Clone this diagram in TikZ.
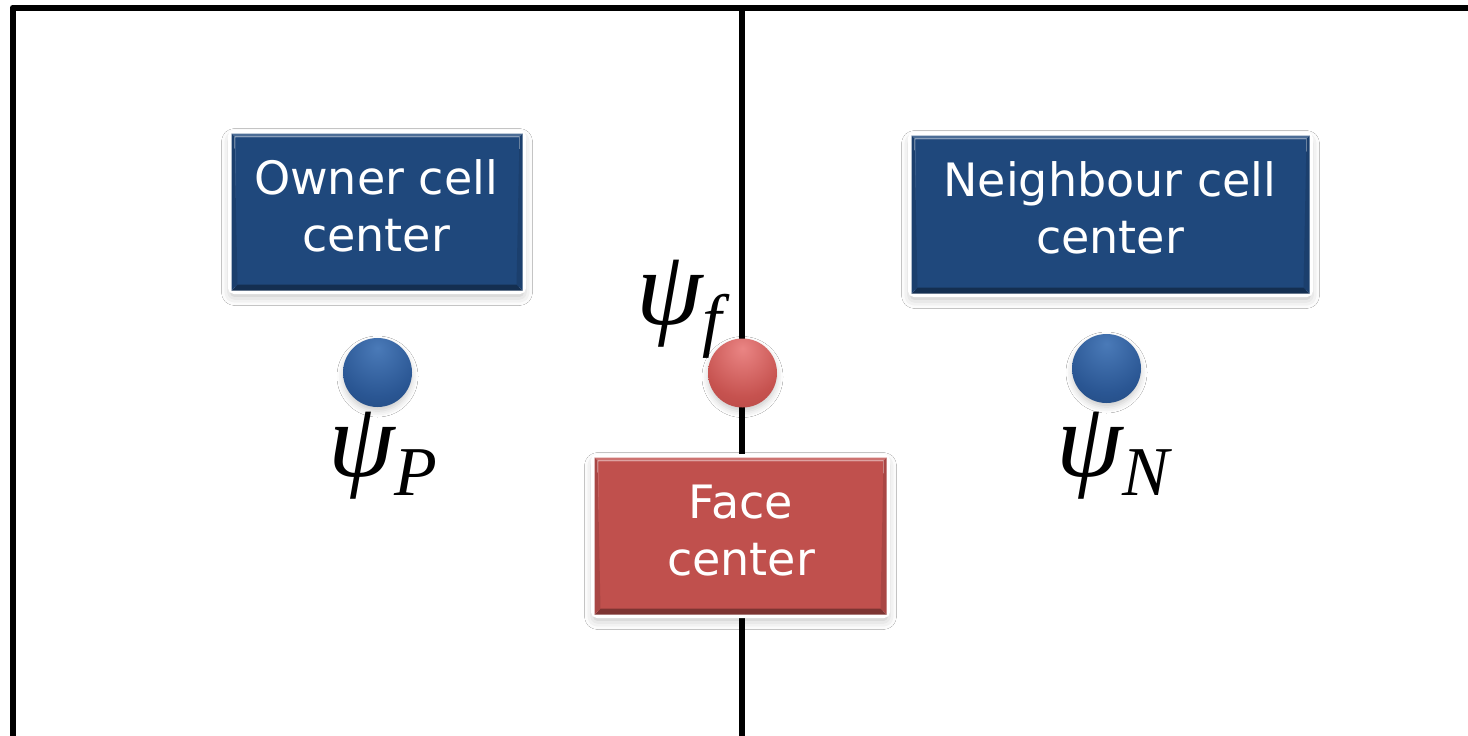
\documentclass[tikz,border=0pt]{standalone}
\usepackage{fontspec}
\newfontfamily\boxfont{DejaVu Sans}
\newfontfamily\psifont{Liberation Serif}
\usetikzlibrary{calc,shadows.blur}
\definecolor{boxblue}{HTML}{1F487C}
\definecolor{boxred}{HTML}{C0504D}
\definecolor{bbhi}{HTML}{4A7AB8}
\definecolor{bbmid}{HTML}{2A5693}
\definecolor{bbdark}{HTML}{1B3D6C}
\definecolor{rbhi}{HTML}{EA8584}
\definecolor{rbmid}{HTML}{C6524F}
\definecolor{rbdark}{HTML}{A53F3D}
\pgfdeclareradialshading{blueball}{\pgfpoint{0bp}{18bp}}{color(0bp)=(bbhi); color(30bp)=(bbmid); color(60bp)=(bbdark); color(100bp)=(bbdark)}
\pgfdeclareradialshading{redball}{\pgfpoint{0bp}{18bp}}{color(0bp)=(rbhi); color(30bp)=(rbmid); color(60bp)=(rbdark); color(100bp)=(rbdark)}
\newcommand\mybevel[2]{%
  \coordinate (bA) at ($(#1.north west)+(3.5,3.5)$);
  \coordinate (bB) at ($(#1.north east)+(-3.5,3.5)$);
  \coordinate (bC) at ($(#1.south east)+(-3.5,-3.5)$);
  \coordinate (bD) at ($(#1.south west)+(3.5,-3.5)$);
  \fill[#2!80!white] (bA) -- (bB) -- ($(bB)+(-3,3)$) -- ($(bA)+(3,3)$) -- cycle;
  \fill[#2!65!black] (bD) -- (bC) -- ($(bC)+(-6,-6)$) -- ($(bD)+(6,-6)$) -- cycle;
  \fill[#2!88!black] (bA) -- ($(bA)+(3,3)$) -- ($(bD)+(6,-6)$) -- (bD) -- cycle;
  \fill[#2!88!black] (bB) -- ($(bB)+(-3,3)$) -- ($(bC)+(-6,-6)$) -- (bC) -- cycle;
}
\newcommand\psisub[1]{ψ\raisebox{-19pt}{\fontsize{70}{73}\selectfont #1}}
\tikzset{
  frameline/.style={line width=6pt, black, line join=round},
  cellbox/.style={draw=white, line width=7pt, rectangle, rounded corners=3pt, inner sep=0pt,
    blur shadow={shadow xshift=0pt, shadow yshift=-5pt, shadow blur radius=10pt, shadow opacity=28}},
  boxtext/.style={inner sep=0pt, text=white, align=center, font=\boxfont\fontsize{46}{57}\selectfont},
  ball/.style={circle, minimum size=69pt, inner sep=0pt,
    blur shadow={shadow xshift=0pt, shadow yshift=-4pt, shadow blur radius=6pt, shadow opacity=20}},
  mathlbl/.style={inner sep=0pt, anchor=base west, font=\psifont\itshape\fontsize{107}{112}\selectfont}
}
\begin{document}
\begin{tikzpicture}[x=1pt,y=-1pt]
\useasboundingbox (0,0) rectangle (1468,736);
\fill[white] (0,0) rectangle (1468,736);
% cell frame
\draw[frameline] (1480,7.5) -- (12.5,7.5) -- (12.5,739) -- (1480,739);
\draw[frameline] (742,7.5) -- (742,739);
% owner cell box
\node[cellbox, fill=boxblue, minimum width=291pt, minimum height=157pt] (owner) at (377,212) {};
\mybevel{owner}{boxblue}
\node[boxtext] (ownertext) at (376,206) {Owner cell\\center};
% neighbour cell box
\node[cellbox, fill=boxblue, minimum width=398pt, minimum height=158pt] (neigh) at (1110.5,214.5) {};
\mybevel{neigh}{boxblue}
\node[boxtext] (neightext) at (1110,208) {Neighbour cell\\center};
% balls
\node[ball, shading=blueball] (P) at (377.5,372.5) {};
\node[ball, shading=blueball] (N) at (1106.5,368.5) {};
\node[ball, shading=redball] (F) at (742.5,373) {};
% face box
\node[cellbox, fill=boxred, minimum width=292pt, minimum height=157pt] (face) at (740.5,536) {};
\mybevel{face}{boxred}
\node[boxtext] (facetext) at (741,531) {Face\\center};
% labels
\node[mathlbl] (psiP) at (328,476.5) {\psisub{P}};
\node[mathlbl] (psiN) at (1056,476.5) {\psisub{N}};
\node[mathlbl] (psiF) at (636,324.5) {\psisub{f}};
\end{tikzpicture}
\end{document}
